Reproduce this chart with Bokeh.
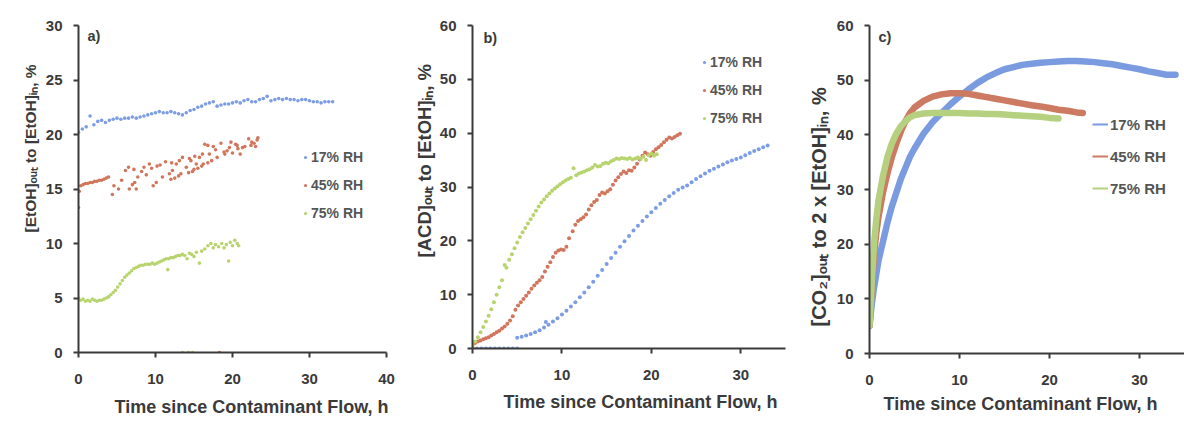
from math import pi
from bokeh.plotting import figure
from bokeh.layouts import row
from bokeh.models import Range1d, FixedTicker, Label, Legend, LegendItem, Title
from bokeh.embed import file_html
from bokeh.resources import INLINE

# ---------------- data ----------------
SERIES = ["17% RH", "45% RH", "75% RH"]
X_TICKS_A = [0, 10, 20, 30, 40]
Y_TICKS_A = [0, 5, 10, 15, 20, 25, 30]
X_TICKS_BC = [0, 10, 20, 30]
Y_TICKS_BC = [0, 10, 20, 30, 40, 50, 60]
X_TITLE = "Time since Contaminant Flow, h"
Y_TITLES = ["[EtOH]ₒᵤₜ to [EtOH]ᵢₙ, %", "[ACD]ₒᵤₜ to [EtOH]ᵢₙ, %", "[CO₂]ₒᵤₜ to 2 x [EtOH]ᵢₙ, %"]
TAGS = ["a)", "b)", "c)"]

# panel a) [EtOH]out / [EtOH]in
A17_T = [0, 0.5, 1, 1.5, 2, 2.5, 3, 3.5, 4, 4.5, 5, 5.5, 6, 6.5, 7, 7.5, 8, 8.5, 9, 9.5,
         10, 10.5, 11, 11.5, 12, 12.5, 13, 13.5, 14, 14.5, 15, 15.5, 16, 16.5, 17, 17.5,
         18, 18.5, 19, 19.5, 20, 20.5, 21, 21.5, 22, 22.5, 23, 23.5, 24, 24.5, 25, 25.5,
         26, 26.5, 27, 27.5, 28, 28.5, 29, 29.5, 30, 30.5, 31, 31.5, 32, 32.5, 33]
A17_V = [20.2, 20.5, 20.7, 21.7, 20.9, 21.2, 21.3, 21.1, 21.3, 21.4,
         21.5, 21.4, 21.5, 21.5, 21.6, 21.5, 21.6, 21.7, 21.8, 21.9,
         22.0, 22.1, 22.0, 22.0, 22.1, 22.0, 21.9, 21.8, 22.0, 22.2,
         22.3, 22.5, 22.6, 22.8, 22.9, 23.0, 22.6, 22.7, 22.8, 22.8,
         22.9, 23.0, 22.9, 23.1, 23.2, 23.0, 23.0, 23.2, 23.3, 23.5,
         23.1, 23.2, 23.3, 23.2, 23.3, 23.2, 23.2, 23.1, 23.2, 23.2,
         23.1, 23.0, 23.0, 22.9, 23.0, 23.0, 23.0]

A45_T = [0, 0.1, 0.3, 0.6, 0.9, 1.2, 1.5, 1.8, 2.1, 2.4,
         2.7, 3.0, 3.3, 3.6, 3.9, 4.4, 4.6, 5.2, 5.6, 6.1,
         6.5, 6.6, 7.0, 7.3, 7.5, 7.7, 8.2, 8.5, 9.2, 9.7,
         10.1, 10.2, 10.9, 11.3, 11.8, 12.2, 12.7, 13.5, 14.0, 14.6,
         15.3, 15.7, 16.4, 17.0, 17.8, 18.3, 18.5, 18.9, 19.6, 20.4,
         21.3, 22.1, 22.8, 23.2,
         12.0, 12.5, 13.0, 13.3, 14.3, 14.8, 15.0, 15.5, 16.0, 16.2,
         16.8, 17.3, 18.0, 19.0, 19.3, 20.0, 20.7, 21.6, 22.4, 23.0,
         7.2, 8.8, 9.5, 10.6, 12.1, 13.1, 14.4, 15.1, 16.1, 16.8,
         17.5, 19.8, 20.6, 21.0, 22.5, 23.3]
A45_V = [13.3, 14.8, 15.3, 15.4, 15.5, 15.5, 15.6, 15.6, 15.7, 15.7,
         15.8, 15.8, 15.9, 16.0, 16.1, 14.5, 15.3, 15.0, 15.8, 16.7,
         17.0, 15.0, 15.4, 15.6, 15.0, 16.1, 16.6, 17.0, 17.3, 15.3,
         15.6, 17.1, 16.1, 17.5, 16.4, 16.7, 17.3, 17.9, 17.0, 17.6,
         17.3, 17.9, 19.1, 18.2, 18.6, 0, 19.2, 18.4, 18.8, 19.1,
         18.8, 19.6, 19.2, 19.5,
         15.9, 16.0, 16.2, 16.4, 16.5, 16.6, 16.8, 16.9, 17.1, 17.3,
         17.4, 17.6, 17.9, 18.2, 18.5, 18.3, 18.7, 18.9, 19.0, 18.9,
         16.8, 16.3, 16.9, 17.2, 17.4, 17.6, 17.8, 18.0, 18.2, 19.0,
         18.9, 19.3, 19.0, 18.2, 19.3, 19.7]

A75_T = [0, 0.3, 0.6, 0.9, 1.2, 1.5, 1.8, 2.1, 2.4, 2.7,
         3.0, 3.3, 3.6, 3.9, 4.2, 4.5, 4.8, 5.1, 5.4, 5.7,
         6.0, 6.3, 6.6, 6.9, 7.2, 7.5, 7.8, 8.1, 8.4, 8.7,
         9.0, 9.3, 9.6, 9.9, 10.2, 10.5, 10.8, 11.1, 11.4, 11.6, 11.7,
         12.0, 12.3, 12.6, 12.9, 13.2, 13.5, 13.8, 14.1, 14.4, 14.7, 15.0, 15.3,
         15.7, 16.0, 16.4, 16.8, 17.2, 17.5, 17.8, 18.2, 18.6, 18.9,
         19.2, 19.5, 19.7, 20.0, 20.3, 20.6, 20.8, 13.5, 14.3, 14.8]
A75_V = [5.0, 4.8, 4.9, 4.7, 4.8, 4.7, 4.9, 4.8, 4.7, 4.8,
         4.8, 4.9, 5.0, 5.1, 5.3, 5.5, 5.7, 6.0, 6.3, 6.6,
         6.9, 7.1, 7.3, 7.5, 7.7, 7.8, 7.9, 8.0, 8.0, 8.1,
         8.1, 8.1, 8.2, 8.1, 8.2, 8.3, 8.4, 8.5, 8.6, 7.6, 8.6,
         8.7, 8.7, 8.8, 8.9, 8.9, 9.0, 8.9, 8.6, 9.1, 9.0, 8.8, 9.2,
         8.2, 9.3, 9.5, 9.8, 10.0, 9.6, 9.9, 9.7, 10.0, 9.6,
         9.9, 8.4, 10.1, 9.8, 10.3, 10.0, 9.8, 0, 0, 0]

# panel b) [ACD]out / [EtOH]in
B17_T = [0, 0.5, 1, 1.5, 2, 2.5, 3, 3.5, 4, 4.5, 5,
         5, 5.5, 6, 6.5, 7, 7.5, 8, 8.2,
         8.5, 9, 9.5, 10, 10.5, 11, 11.5, 12, 12.5, 13,
         13.5, 14, 14.5, 15, 15.5, 16, 16.5, 17, 17.5, 18,
         18.5, 19, 19.5, 20, 20.5, 21, 21.5, 22, 22.5, 23,
         23.5, 24, 24.5, 25, 25.5, 26, 26.5, 27, 27.5, 28,
         28.5, 29, 29.5, 30, 30.5, 31, 31.5, 32, 32.5, 33]
B17_V = [0, 0, 0, 0, 0, 0, 0, 0, 0, 0, 0,
         2.0, 2.2, 2.4, 2.7, 3.0, 3.4, 3.9, 4.9,
         4.4, 5.0, 5.6, 6.3, 7.0, 7.8, 8.6, 9.5, 10.4, 11.4,
         12.4, 13.5, 14.6, 15.7, 16.8, 17.8, 18.9, 19.9, 20.9, 21.9,
         22.8, 23.7, 24.5, 25.3, 26.1, 26.9, 27.6, 28.3, 28.9, 29.5,
         29.9, 30.3, 30.9, 31.5, 32.0, 32.5, 33.0, 33.4, 33.8, 34.2,
         34.6, 34.9, 35.2, 35.5, 35.9, 36.3, 36.7, 37.0, 37.4, 37.7]

B45_T = [0, 0.3, 0.6, 0.9, 1.2, 1.5, 1.8, 2.1, 2.4, 2.7,
         3.0, 3.3, 3.6, 3.9, 4.2, 4.5, 4.8, 5.1, 5.4, 5.7,
         6.0, 6.3, 6.6, 6.9, 7.2, 7.5, 7.8, 8.1, 8.4, 8.7,
         9.0, 9.3, 9.6, 9.9, 10.2, 10.5, 10.8,
         11.2, 11.5, 11.8, 12.1, 12.4, 12.7, 13.0, 13.3, 13.6, 13.9,
         14.2, 14.5, 14.8, 15.1, 15.4, 15.7, 16.0, 16.3, 16.6, 16.9,
         17.2, 17.5, 17.8, 18.1, 18.4, 18.7, 19.0, 19.3, 19.6, 19.9,
         20.2, 20.5, 20.8, 21.1, 21.4, 21.7, 22.0, 22.3, 22.6, 22.9, 23.2]
B45_V = [0.5, 1.0, 1.3, 1.5, 1.7, 1.9, 2.1, 2.4, 2.7, 3.0,
         3.3, 3.7, 4.1, 4.6, 5.2, 6.0, 7.2, 8.0, 8.6, 9.2,
         9.8, 10.4, 11.1, 11.7, 12.2, 12.7, 13.3, 14.3, 15.2, 16.0,
         17.0, 17.8, 18.2, 18.4, 18.3, 18.9, 20.5,
         21.8, 23.0, 23.7, 24.0, 24.4, 24.9, 25.8, 26.6, 27.2, 27.6,
         28.5, 29.0, 28.8, 29.2, 29.6, 30.4, 31.2, 31.8, 32.4, 32.9,
         32.6, 33.1, 33.0, 33.6, 34.3, 35.1, 35.8, 36.4, 36.1, 35.8,
         36.5, 37.0, 37.4, 37.8, 38.3, 38.8, 39.2, 39.0, 39.3, 39.6, 39.9]

B75_T = [0, 0.3, 0.6, 0.9, 1.2, 1.5, 1.8, 2.1, 2.4, 2.7,
         3.0, 3.3, 3.6, 3.8,
         4.1, 4.4, 4.7, 5.0, 5.3, 5.6, 5.9, 6.2, 6.5, 6.8,
         7.1, 7.4, 7.7, 8.0, 8.3, 8.6, 8.9, 9.2, 9.5, 9.8,
         10.1, 10.4, 10.7, 11.0, 11.3, 11.6, 11.9, 12.2, 12.5, 12.8,
         13.1, 13.4, 13.7, 14.0, 14.3, 14.6, 14.9, 15.2, 15.5, 15.8,
         16.1, 16.4, 16.7, 17.0, 17.3, 17.6, 17.9, 18.2, 18.5, 18.8,
         19.1, 19.4, 19.7, 20.0, 20.3, 20.6]
B75_V = [0.5, 1.3, 2.1, 3.0, 4.0, 5.0, 6.1, 7.3, 8.6, 10.0,
         11.4, 12.7, 15.5, 15.0,
         16.5, 17.5, 18.6, 19.7, 20.7, 21.6, 22.4, 23.2, 24.0, 24.8,
         25.6, 26.4, 27.1, 27.7, 28.3, 28.8, 29.3, 29.7, 30.1, 30.5,
         30.9, 31.2, 31.5, 31.7, 33.5, 32.2, 32.5, 32.7, 32.9, 33.1,
         33.3, 33.6, 34.1, 33.8, 33.9, 34.3, 34.5, 34.4, 34.8, 35.0,
         35.3, 35.2, 35.4, 35.3, 35.2, 35.4, 35.1, 35.3, 35.5, 35.2,
         35.6, 35.0, 35.9, 36.2, 35.8, 36.1]

# panel c) [CO2]out / 2 x [EtOH]in
C17_T = [0, 0.25, 0.5, 0.75, 1, 1.5, 2, 2.5, 3, 3.5, 4, 4.5, 5,
         6, 7, 8, 9, 10, 11, 12, 13, 14, 15, 16, 17, 18, 19, 20,
         21, 22, 23, 24, 25, 26, 27, 28, 29, 30, 31, 32, 33, 34]
C17_V = [5, 9, 12, 14.5, 17, 20.5, 24, 27, 29.5, 32, 34, 36, 37.5,
         40.2, 42.3, 44, 45.6, 47, 48.3, 49.5, 50.5, 51.3, 52, 52.4, 52.8, 53, 53.2, 53.3,
         53.4, 53.5, 53.5, 53.4, 53.3, 53.1, 52.9, 52.6, 52.3, 52, 51.6, 51.3, 51, 51]
C45_T = [0, 0.25, 0.5, 0.75, 1, 1.5, 2, 2.5, 3, 3.5, 4, 4.5, 5,
         6, 7, 8, 9, 10, 11, 12, 13, 14, 15, 16, 17, 18, 19, 20,
         21, 22, 23, 23.7]
C45_V = [5, 12, 18, 22, 25, 29.5, 33, 36, 38.5, 40.7, 42.5, 44, 45,
         46.2, 47, 47.4, 47.6, 47.6, 47.5, 47.2, 46.9, 46.6, 46.3, 46, 45.7, 45.4, 45.2, 44.9,
         44.6, 44.4, 44.1, 44]
C75_T = [0, 0.25, 0.5, 0.75, 1, 1.5, 2, 2.5, 3, 3.5, 4, 4.5, 5,
         6, 7, 8, 9, 10, 11, 12, 13, 14, 15, 16, 17, 18, 19, 20, 21]
C75_V = [5, 13, 20, 24.5, 28, 32.5, 36, 38.5, 40.3, 41.6, 42.5, 43.2, 43.6,
         43.9, 44, 44, 44, 44, 43.9, 43.9, 43.8, 43.8, 43.7, 43.6, 43.5, 43.4, 43.3, 43.1, 43]

# ---------------- style ----------------
FONT = "Liberation Sans"
INK = "#3a3a3a"
LEG_INK = "#555555"
DOT = ["#7c9de3", "#d0765c", "#b7d46e"]
BAND = ["#7b9be0", "#cc7a62", "#b5d07f"]


def make_fig(fw, fh, bl, bt, bb, br, xmax, ymax, xticks, yticks, xstand):
    p = figure(frame_width=fw, frame_height=fh, min_border_left=bl, min_border_top=bt,
               min_border_bottom=bb, min_border_right=br,
               x_range=Range1d(0, xmax), y_range=Range1d(0, ymax),
               output_backend="svg", toolbar_location=None)
    p.grid.visible = False
    p.outline_line_color = None
    p.background_fill_color = "white"
    p.border_fill_color = "white"
    p.xaxis.ticker = FixedTicker(ticks=xticks)
    p.yaxis.ticker = FixedTicker(ticks=yticks)
    for ax in (p.xaxis[0], p.yaxis[0]):
        ax.axis_line_color = INK
        ax.axis_line_width = 2
        ax.major_tick_line_color = INK
        ax.major_tick_line_width = 2
        ax.major_tick_in = 0
        ax.major_tick_out = 5
        ax.minor_tick_line_color = None
        ax.major_label_text_font = FONT
        ax.major_label_text_font_style = "bold"
        ax.major_label_text_font_size = "15px"
        ax.major_label_text_color = INK
    p.yaxis[0].major_label_standoff = 11
    p.xaxis[0].major_label_standoff = xstand
    return p


def titles(p, ytext, ysize, yoff, ystand, xoff, xstand):
    p.add_layout(Title(text=X_TITLE, align="right", offset=xoff, standoff=xstand,
                       text_font=FONT, text_font_style="bold", text_font_size="18px",
                       text_color=INK), "below")
    p.add_layout(Title(text=ytext, align="left", offset=yoff, standoff=ystand,
                       text_font=FONT, text_font_style="bold", text_font_size=f"{ysize}px",
                       text_color=INK), "left")


def tag(p, ymax, txt, x_off, y_off):
    p.add_layout(Label(x=0, y=ymax, x_offset=x_off, y_offset=y_off, text=txt,
                       text_align="left", text_baseline="middle", text_font=FONT,
                       text_font_style="bold", text_font_size="14.5px", text_color=INK))


def legend(p, renderers, loc, gw, spacing, fsize):
    lg = Legend(items=[LegendItem(label=s, renderers=[r]) for s, r in zip(SERIES, renderers)],
                location=loc, orientation="vertical", border_line_color=None,
                background_fill_alpha=0, padding=0, margin=0, spacing=spacing,
                glyph_width=gw, glyph_height=20, label_height=20, label_standoff=2,
                label_text_font=FONT, label_text_font_style="bold",
                label_text_font_size=fsize, label_text_color=LEG_INK)
    p.add_layout(lg)


# ---------------- panel a ----------------
pa = make_fig(308, 327, 78, 25, 76, 9, 40, 30, X_TICKS_A, Y_TICKS_A, 16)
ra = [pa.scatter(t, v, size=3.6, color=c, line_width=0)
      for t, v, c in zip([A17_T, A45_T, A75_T], [A17_V, A45_V, A75_V], DOT)]
legend(pa, ra, (223, 129), 8, 8, "14px")
titles(pa, Y_TITLES[0], 15.5, 120, 8, -2, 16)
tag(pa, 30, TAGS[0], 9, -10)

# ---------------- panel b ----------------
pb = make_fig(313, 323, 77, 25, 80, 5, 35, 60, X_TICKS_BC, Y_TICKS_BC, 16)
rb = [pb.scatter(t, v, size=4, color=c, line_width=0)
      for t, v, c in zip([B17_T, B45_T, B75_T], [B17_V, B45_V, B75_V], DOT)]
legend(pb, rb, (228, 220), 8, 8, "14px")
titles(pb, Y_TITLES[1], 18.5, 91, 4, 8, 14)
tag(pb, 60, TAGS[1], 11, -12)

# ---------------- panel c ----------------
pc = make_fig(315, 328, 79, 24, 76, 0, 35, 60, X_TICKS_BC, Y_TICKS_BC, 16)
for t, v, c in zip([C17_T, C45_T, C75_T], [C17_V, C45_V, C75_V], BAND):
    pc.line(t, v, line_width=6.5, color=c, line_join="round", line_cap="round")
rc = [pc.line([float("nan")], [float("nan")], line_width=2, color=c) for c in BAND]
legend(pc, rc, (223, 155), 16, 12, "15px")
titles(pc, Y_TITLES[2], 20, 27, 7, 27, 8)
tag(pc, 60, TAGS[2], 9, -11)

layout = row(pa, pb, pc)
open("out.html", "w").write(file_html(layout, INLINE))
